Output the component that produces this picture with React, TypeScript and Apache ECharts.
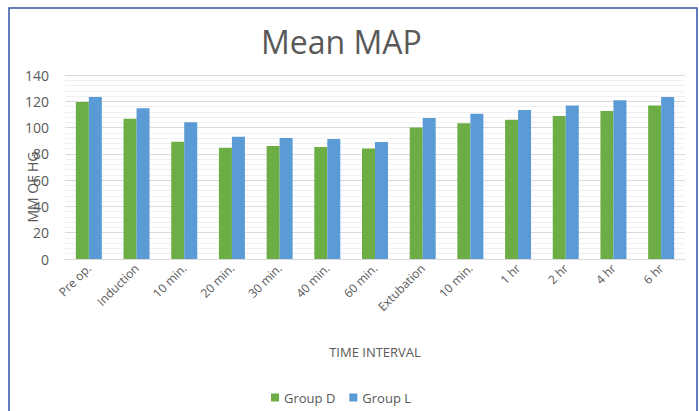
import React, { useEffect, useRef } from "react";
import * as echarts from "echarts";

const categories = ["Pre op.", "Induction", "10 min.", "20 min.", "30 min.", "40 min.", "60 min.", "Extubation", "10 min.", "1 hr", "2 hr", "4 hr", "6 hr"];
const groupD = [119.5, 106.8, 89.3, 84.7, 86, 85.2, 84, 100, 103.3, 106, 108.8, 112.6, 116.7];
const groupL = [123.3, 114.7, 104, 93, 92, 91.3, 89, 107.3, 110.6, 113.4, 116.7, 120.8, 123.3];

const FONT = "'Open Sans', 'Noto Sans', sans-serif";
const TXT = "#595959";

export default function App() {
  const ref = useRef<HTMLDivElement>(null);
  useEffect(() => {
    if (!ref.current) return;
    const chart = echarts.init(ref.current, undefined, { renderer: "svg" });
    chart.setOption({
      animation: false,
      backgroundColor: "#ffffff",
      title: {
        text: "Mean MAP",
        left: 256,
        top: 20,
        textStyle: { fontFamily: FONT, fontSize: 32, fontWeight: "normal", color: TXT },
      },
      graphic: [
        {
          type: "rect",
          shape: { x: 9, y: 8, width: 688, height: 420 },
          style: { fill: "none", stroke: "#2F55A4", lineWidth: 1.5 },
          silent: true,
        },
      ],
      legend: {
        bottom: 2,
        left: 266,
        itemWidth: 8,
        itemHeight: 8,
        itemGap: 14,
        icon: "rect",
        textStyle: { fontFamily: FONT, fontSize: 13, color: TXT },
        data: ["Group D", "Group L"],
      },
      grid: { left: 65, right: 14, top: 75, bottom: 152 },
      xAxis: {
        type: "category",
        data: categories,
        name: "TIME INTERVAL",
        nameLocation: "middle",
        nameGap: 86,
        nameTextStyle: { fontFamily: FONT, fontSize: 13, color: TXT },
        axisLine: { lineStyle: { color: "#D9D9D9" } },
        axisTick: { show: false },
        axisLabel: { rotate: 45, fontFamily: FONT, fontSize: 12, color: TXT, interval: 0, margin: 7 },
      },
      yAxis: {
        type: "value",
        min: 0,
        max: 140,
        interval: 20,
        name: "MM OF HG",
        nameLocation: "middle",
        nameRotate: 90,
        nameGap: 26,
        nameMoveOverlap: false,
        nameTextStyle: { fontFamily: FONT, fontSize: 14, color: TXT, padding: [0, 40, 0, 0] },
        axisLine: { show: false },
        axisTick: { show: false },
        axisLabel: { fontFamily: FONT, fontSize: 14, color: TXT, margin: 16 },
        splitLine: { lineStyle: { color: "#D9D9D9" } },
        minorTick: { show: false, splitNumber: 5 },
        minorSplitLine: { show: true, lineStyle: { color: "#F0F0F0" } },
      },
      series: [
        {
          name: "Group D",
          type: "bar",
          data: groupD,
          barWidth: 13,
          barGap: "0%",
          itemStyle: { color: "#6DAD45" },
        },
        {
          name: "Group L",
          type: "bar",
          data: groupL,
          barWidth: 13,
          barGap: "0%",
          itemStyle: { color: "#5B9BD5" },
        },
      ],
    });
    return () => chart.dispose();
  }, []);
  return (
    <div
      ref={ref}
      style={{ position: "absolute", left: 0, top: 0, width: 699, height: 411 }}
    />
  );
}
